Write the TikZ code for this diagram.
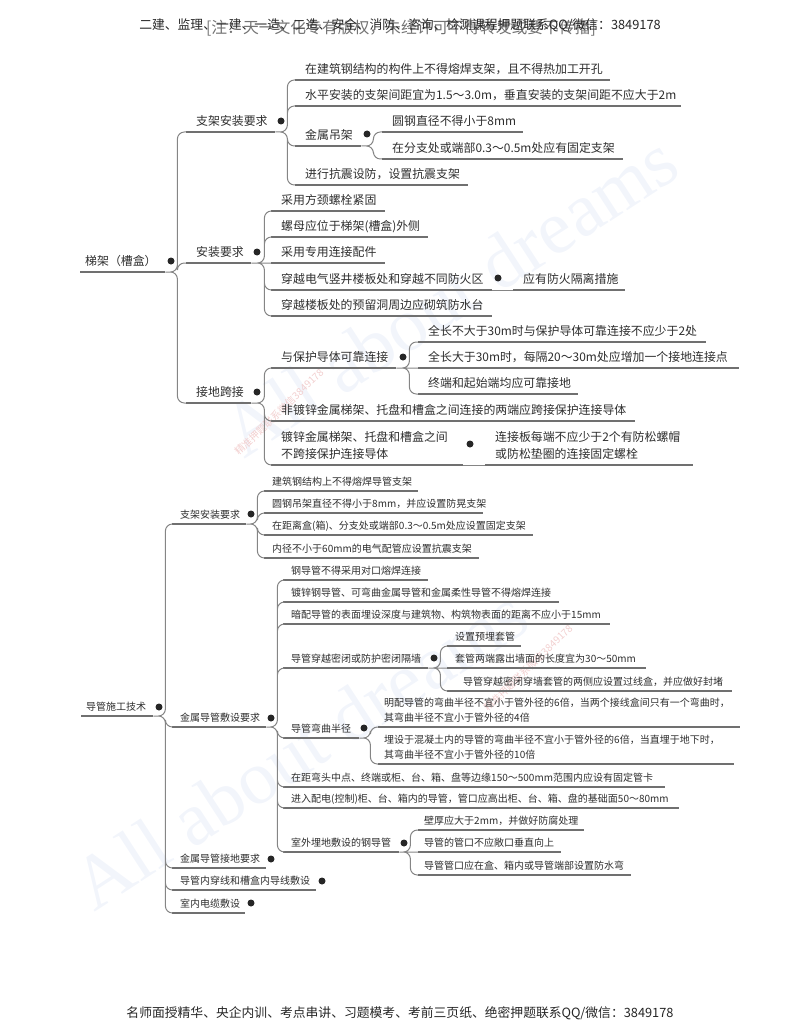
\documentclass[tikz,border=0pt]{standalone}
\usepackage{fontspec}
\usepackage{xcolor}
\setmainfont{Noto Sans CJK SC}
\newfontfamily\markfont{Liberation Serif}
\usetikzlibrary{positioning}
\definecolor{inkgray}{HTML}{2E2E2E}
\definecolor{rulegray}{HTML}{707070}
\definecolor{linegray}{HTML}{858585}
\definecolor{markblue}{HTML}{F2F5FB}
\definecolor{markred}{HTML}{F2CFCF}
\tikzset{
    rule/.style={draw=rulegray, line width=2pt},
    branch/.style={draw=linegray, line width=1pt, rounded corners=7pt},
    item/.style={anchor=south west, inner xsep=10pt, inner ysep=6.5pt, text depth=0pt, align=left, text=inkgray,
        font=\fontsize{11.9}{17}\selectfont, text width={#1pt-20pt},
        append after command={(\tikzlastnode.south west) edge[rule] (\tikzlastnode.south east)}},
    subitem/.style={item=#1, inner xsep=8pt, inner ysep=5.5pt, font=\fontsize{10}{15}\selectfont, text width={#1pt-16pt}},
    hub/.style={circle, fill=black!85, inner sep=0pt, minimum size=7pt},
    banner/.style={text=black!85, font=\fontsize{12.8}{15}\selectfont, inner sep=0pt},
    dreams/.style={text=markblue, rotate=33, inner sep=0pt, font=\markfont\fontsize{76}{80}\selectfont},
    stamp/.style={text=markred, rotate=44, inner sep=0pt, font=\fontsize{10}{12}\selectfont}
}

\begin{document}
\begin{tikzpicture}[x=1pt, y=-1pt]
        \useasboundingbox (0,0) rectangle (800,1035);

        \node[dreams] (markone) at (450,295) {All about dreams};
        \node[dreams] (marktwo) at (300,748) {All about dreams};
        \node[stamp] (stampone) at (279,412) {精准押题联系微信3849178};
        \node[stamp] (stamptwo) at (528,668) {精准押题联系微信3849178};

        \node[banner, text=black!55, font=\fontsize{15.8}{18}\selectfont] (notice) at (401,28) {[注：天一文化专有版权，未经许可不得转发或要不传播]};
        \node[banner] (header) at (400,25) {二建、监理、一建、一造、二造、安全、消防、咨询、检测课程押题联系QQ/微信：3849178};
        \node[banner] (footer) at (400,1013) {名师面授精华、央企内训、考点串讲、习题模考、考前三页纸、绝密押题联系QQ/微信：3849178};

        \node[item=95, inner xsep=5pt] (ladder) at (80,272) {梯架（槽盒）};
        \node[hub] (ladderhub) at (171,261) {};

        \node[item=89] (bracket) at (186,132) {支架安装要求};
        \node[hub] (brackethub) at (281,121) {};
        \node[item=315] (nowelding) at (295,80) {在建筑钢结构的构件上不得熔焊支架，且不得热加工开孔};
        \node[item=386] (spacing) at (295,106) {水平安装的支架间距宜为1.5～3.0m，垂直安装的支架间距不应大于2m};
        \node[item=66] (hanger) at (295,146) {金属吊架};
        \node[hub] (hangerhub) at (367,134) {};
        \node[item=141] (rod) at (382,132) {圆钢直径不得小于8mm};
        \node[item=241] (fixed) at (382,159) {在分支处或端部0.3～0.5m处应有固定支架};
        \node[item=173] (seismic) at (295,185) {进行抗震设防，设置抗震支架};

        \node[item=65] (install) at (186,263) {安装要求};
        \node[hub] (installhub) at (257,252) {};
        \node[item=114] (bolt) at (271,211) {采用方颈螺栓紧固};
        \node[item=157] (nut) at (271,237) {螺母应位于梯架(槽盒)外侧};
        \node[item=114] (fitting) at (271,263) {采用专用连接配件};
        \node[item=221] (crossing) at (271,290) {穿越电气竖井楼板处和穿越不同防火区};
        \node[hub] (crossinghub) at (498,278) {};
        \node[item=112] (firestop) at (513,290) {应有防火隔离措施};
        \node[item=221] (curb) at (271,316) {穿越楼板处的预留洞周边应砌筑防水台};

        \node[item=65] (bonding) at (186,403) {接地跨接};
        \node[hub] (bondinghub) at (257,392) {};
        \node[item=125] (protect) at (271,368) {与保护导体可靠连接};
        \node[hub] (protecthub) at (403,357) {};
        \node[item=288] (short) at (418,342) {全长不大于30m时与保护导体可靠连接不应少于2处};
        \node[item=321] (long) at (418,368) {全长大于30m时，每隔20～30m处应增加一个接地连接点};
        \node[item=160] (ends) at (418,394) {终端和起始端均应可靠接地};
        \node[item=364] (plain) at (271,421) {非镀锌金属梯架、托盘和槽盒之间连接的两端应跨接保护连接导体};
        \node[item=192, text depth=17pt] (zinc) at (271,465) {镀锌金属梯架、托盘和槽盒之间\\不跨接保护连接导体};
        \node[hub] (zinchub) at (470,444) {};
        \node[item=208, text depth=17pt] (plate) at (485,465) {连接板每端不应少于2个有防松螺帽\\或防松垫圈的连接固定螺栓};

        \draw[branch] (ladder.south east) -- ++(12,0) |- (bracket.south west)
            (ladder.south east) -- ++(12,0) |- (install.south west)
            (ladder.south east) -- ++(12,0) |- (bonding.south west);
        \draw[branch] (bracket.south east) -- ++(12,0) |- (nowelding.south west)
            (bracket.south east) -- ++(12,0) |- (spacing.south west)
            (bracket.south east) -- ++(12,0) |- (hanger.south west)
            (bracket.south east) -- ++(12,0) |- (seismic.south west);
        \draw[branch] (hanger.south east) -- ++(12,0) |- (rod.south west)
            (hanger.south east) -- ++(12,0) |- (fixed.south west);
        \draw[branch] (install.south east) -- ++(13,0) |- (bolt.south west)
            (install.south east) -- ++(13,0) |- (nut.south west)
            (install.south east) -- (fitting.south west)
            (install.south east) -- ++(13,0) |- (crossing.south west)
            (install.south east) -- ++(13,0) |- (curb.south west);
        \draw[branch] (crossing.south east) -- (firestop.south west);
        \draw[branch] (bonding.south east) -- ++(13,0) |- (protect.south west)
            (bonding.south east) -- ++(13,0) |- (plain.south west)
            (bonding.south east) -- ++(13,0) |- (zinc.south west);
        \draw[branch] (protect.south east) -- ++(13,0) |- (short.south west)
            (protect.south east) -- (long.south west)
            (protect.south east) -- ++(13,0) |- (ends.south west);
        \draw[branch] (zinc.south east) -- (plate.south west);

        \node[subitem=78, inner xsep=5pt] (conduit) at (81,716) {导管施工技术};
        \node[hub] (conduithub) at (159,707) {};

        \node[subitem=74] (support) at (172,524) {支架安装要求};
        \node[hub] (supporthub) at (251,514) {};
        \node[subitem=154] (steelweld) at (264,491) {建筑钢结构上不得熔焊导管支架};
        \node[subitem=219] (swing) at (264,513) {圆钢吊架直径不得小于8mm，并应设置防晃支架};
        \node[subitem=269] (box) at (264,535) {在距离盒(箱)、分支处或端部0.3～0.5m处应设置固定支架};
        \node[subitem=215] (inner) at (264,558) {内径不小于60mm的电气配管应设置抗震支架};

        \node[subitem=94] (metal) at (172,727) {金属导管敷设要求};
        \node[hub] (metalhub) at (271,718) {};
        \node[subitem=145] (butt) at (283,580) {钢导管不得采用对口熔焊连接};
        \node[subitem=276] (galv) at (283,602) {镀锌钢导管、可弯曲金属导管和金属柔性导管不得熔焊连接};
        \node[subitem=327] (hidden) at (283,624) {暗配导管的表面埋设深度与建筑物、构筑物表面的距离不应小于15mm};
        \node[subitem=145] (wall) at (283,668) {导管穿越密闭或防护密闭隔墙};
        \node[hub] (wallhub) at (434,658) {};
        \node[subitem=74] (sleeve) at (447,646) {设置预埋套管};
        \node[subitem=199] (expose) at (447,668) {套管两端露出墙面的长度宜为30～50mm};
        \node[subitem=285] (seal) at (447,691) {\hspace*{8pt}导管穿越密闭穿墙套管的两侧应设置过线盒，并应做好封堵};
        \node[subitem=76] (radius) at (283,738) {导管弯曲半径};
        \node[hub] (radiushub) at (364,728) {};
        \node[subitem=366, inner xsep=6pt, text depth=15pt] (surface) at (378,727) {明配导管的弯曲半径不宜小于管外径的6倍，当两个接线盒间只有一个弯曲时，\\其弯曲半径不宜小于管外径的4倍};
        \node[subitem=360, inner xsep=6pt, text depth=15pt] (buried) at (378,764) {埋设于混凝土内的导管的弯曲半径不宜小于管外径的6倍，当直埋于地下时，\\其弯曲半径不宜小于管外径的10倍};
        \node[subitem=382] (clamp) at (283,787) {在距弯头中点、终端或柜、台、箱、盘等边缘150～500mm范围内应设有固定管卡};
        \node[subitem=396] (entry) at (283,808) {进入配电(控制)柜、台、箱内的导管，管口应高出柜、台、箱、盘的基础面50～80mm};
        \node[subitem=116] (outdoor) at (283,852) {室外埋地敷设的钢导管};
        \node[hub] (outdoorhub) at (404,843) {};
        \node[subitem=170, inner xsep=6pt] (thick) at (418,830) {壁厚应大于2mm，并做好防腐处理};
        \node[subitem=147, inner xsep=6pt] (mouth) at (418,852) {导管的管口不应敞口垂直向上};
        \node[subitem=217, inner xsep=6pt] (drip) at (418,875) {导管管口应在盒、箱内或导管端部设置防水弯};

        \node[subitem=94] (earth) at (172,868) {金属导管接地要求};
        \node[hub] (earthhub) at (271,859) {};
        \node[subitem=144] (wiring) at (172,890) {导管内穿线和槽盒内导线敷设};
        \node[hub] (wiringhub) at (322,881) {};
        \node[subitem=73] (cable) at (172,913) {室内电缆敷设};
        \node[hub] (cablehub) at (251,903) {};

        \draw[branch] (conduit.south east) -- ++(12,0) |- (support.south west)
            (conduit.south east) -- ++(12,0) |- (metal.south west)
            (conduit.south east) -- ++(12,0) |- (earth.south west)
            (conduit.south east) -- ++(12,0) |- (wiring.south west)
            (conduit.south east) -- ++(12,0) |- (cable.south west);
        \draw[branch] (support.south east) -- ++(11,0) |- (steelweld.south west)
            (support.south east) -- ++(11,0) |- (swing.south west)
            (support.south east) -- ++(11,0) |- (box.south west)
            (support.south east) -- ++(11,0) |- (inner.south west);
        \draw[branch] (metal.south east) -- ++(11,0) |- (butt.south west)
            (metal.south east) -- ++(11,0) |- (galv.south west)
            (metal.south east) -- ++(11,0) |- (hidden.south west)
            (metal.south east) -- ++(11,0) |- (wall.south west)
            (metal.south east) -- ++(11,0) |- (radius.south west)
            (metal.south east) -- ++(11,0) |- (clamp.south west)
            (metal.south east) -- ++(11,0) |- (entry.south west)
            (metal.south east) -- ++(11,0) |- (outdoor.south west);
        \draw[branch] (wall.south east) -- ++(12,0) |- (sleeve.south west)
            (wall.south east) -- (expose.south west)
            (wall.south east) -- ++(12,0) |- (seal.south west);
        \draw[branch] (radius.south east) -- ++(11,0) |- (surface.south west)
            (radius.south east) -- ++(11,0) |- (buried.south west);
        \draw[branch] (outdoor.south east) -- ++(11,0) |- (thick.south west)
            (outdoor.south east) -- (mouth.south west)
            (outdoor.south east) -- ++(11,0) |- (drip.south west);
\end{tikzpicture}
\end{document}
